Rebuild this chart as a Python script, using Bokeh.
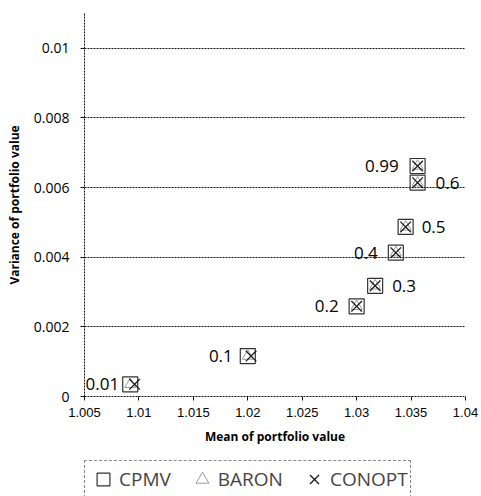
from bokeh.plotting import figure
from bokeh.layouts import column
from bokeh.models import Range1d, FixedTicker, PrintfTickFormatter, Legend, LegendItem, ColumnDataSource, LabelSet
from bokeh.core.properties import value
from bokeh.embed import file_html
from bokeh.resources import INLINE

# ---- data ----
labels = ["0.01", "0.1", "0.2", "0.3", "0.4", "0.5", "0.6", "0.99"]
cpmv_mean = [1.0092, 1.0200, 1.0300, 1.0317, 1.0336, 1.0345, 1.0356, 1.0356]
cpmv_var = [0.00035, 0.00116, 0.00259, 0.00318, 0.00413, 0.00487, 0.00614, 0.00662]
baron_mean = [1.0092, 1.0200, 1.0300, 1.0317, 1.0336, 1.0345, 1.0356, 1.0356]
baron_var = [0.00035, 0.00116, 0.00259, 0.00318, 0.00413, 0.00487, 0.00614, 0.00662]
conopt_mean = [1.0096, 1.0203, 1.0300, 1.0317, 1.0336, 1.0345, 1.0356, 1.0356]
conopt_var = [0.00035, 0.00116, 0.00259, 0.00318, 0.00413, 0.00487, 0.00614, 0.00662]
series_names = ["CPMV", "BARON", "CONOPT"]
x_ticks = [1.005, 1.01, 1.015, 1.02, 1.025, 1.03, 1.035, 1.04]
y_ticks = [0, 0.002, 0.004, 0.006, 0.008, 0.01]

# label placement (style): pixel offset from the point, negative = text on the left
label_offset = [-11, -15, -18, 17, -18, 16, 18, -19]

GRID = "#111111"
STYLES = [dict(marker="square", size=15, fill_alpha=0, line_color="#333333", line_width=1.2),
          dict(marker="triangle", size=11, fill_alpha=0, line_color="#9a9a9a", line_width=1),
          dict(marker="x", size=15, line_color="#1a1a1a", line_width=1.3)]
SERIES = [(cpmv_mean, cpmv_var), (baron_mean, baron_var), (conopt_mean, conopt_var)]

p = figure(width=481, height=448, output_backend="svg", toolbar_location=None,
           x_range=Range1d(1.005, 1.04), y_range=Range1d(0, 0.011),
           min_border_left=84, min_border_right=16, min_border_top=13, min_border_bottom=52)
p.outline_line_color = None
p.background_fill_color = "white"

p.xgrid.grid_line_color = None
p.ygrid.ticker = FixedTicker(ticks=y_ticks[1:])
p.ygrid.grid_line_color = GRID
p.ygrid.grid_line_dash = "2 1"
p.ygrid.grid_line_width = 1

for ax in (p.xaxis[0], p.yaxis[0]):
    ax.axis_line_color = GRID
    ax.axis_line_dash = "2 1"
    ax.major_tick_line_color = GRID
    ax.major_tick_in = 0
    ax.major_tick_out = 4
    ax.minor_tick_line_color = None
    ax.major_label_text_color = "black"
    ax.axis_label_text_color = "black"
    ax.axis_label_text_font_style = "bold"
    ax.axis_label_text_font = "Open Sans"
    ax.axis_label_text_font_size = "12px"

p.xaxis.ticker = FixedTicker(ticks=x_ticks)
p.xaxis.formatter = PrintfTickFormatter(format="%g")
p.xaxis.major_label_text_font = "Liberation Sans"
p.xaxis.major_label_text_font_size = "13px"
p.xaxis.major_label_standoff = 7
p.xaxis.axis_label = "Mean of portfolio value"
p.xaxis.axis_label_standoff = 8

p.yaxis.ticker = FixedTicker(ticks=y_ticks)
p.yaxis.formatter = PrintfTickFormatter(format="%g")
p.yaxis.major_label_text_font = "Open Sans"
p.yaxis.major_label_text_font_size = "14px"
p.yaxis.major_label_standoff = 11
p.yaxis.axis_label = "Variance of portfolio value"
p.yaxis.axis_label_standoff = 8

for (xs, ys), st in zip(SERIES, STYLES):
    p.scatter(xs, ys, **st)

for side, align in (("left", "right"), ("right", "left")):
    idx = [i for i, o in enumerate(label_offset) if (o < 0) == (side == "left")]
    src = ColumnDataSource(dict(x=[cpmv_mean[i] for i in idx], y=[cpmv_var[i] for i in idx],
                                t=[labels[i] for i in idx], dx=[label_offset[i] for i in idx]))
    p.add_layout(LabelSet(x="x", y="y", text="t", source=src, text_align=align,
                          text_baseline="middle", x_offset="dx", text_font=value("Open Sans"),
                          text_font_size="17px", text_color="black"))

# legend strip below the chart (the series are drawn off-view, only their legend glyphs show)
lg = figure(width=481, height=48, output_backend="svg", toolbar_location=None,
            x_range=Range1d(0, 0.5), y_range=Range1d(0, 1),
            min_border=0, min_border_left=0, min_border_right=0, min_border_top=0, min_border_bottom=0)
lg.axis.visible = False
lg.grid.visible = False
lg.outline_line_color = None
items = []
for name, (xs, ys), st in zip(series_names, SERIES, STYLES):
    r = lg.scatter(xs, ys, **st)
    items.append(LegendItem(label=name, renderers=[r]))
legend = Legend(items=items, orientation="horizontal", location=(0, -2), margin=0,
                padding=2, spacing=15, label_standoff=-5, glyph_width=32, glyph_height=32,
                label_height=32,
                label_text_font="Open Sans", label_text_font_size="19px",
                border_line_color=GRID, border_line_dash="2 1", border_line_width=1,
                background_fill_alpha=0)
lg.add_layout(legend, "center")

open("out.html", "w").write(file_html(column(p, lg, spacing=0), INLINE))
